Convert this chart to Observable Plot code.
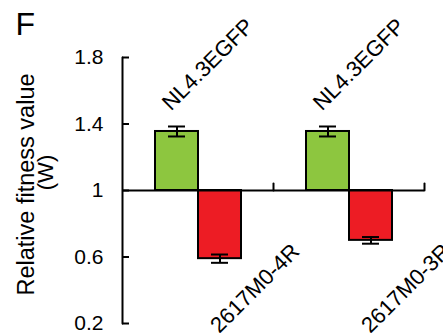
<!DOCTYPE html>
<html><head><meta charset="utf-8">
<script src="https://cdn.jsdelivr.net/npm/d3@7"></script>
<script src="https://cdn.jsdelivr.net/npm/@observablehq/plot@0.6"></script>
<style>html,body{margin:0;padding:0;background:#fff;overflow:hidden;} #chart{width:443px;height:333px;overflow:hidden}</style>
</head><body><div id="chart"></div>
<script>
const pairs = ["Pair 1", "Pair 2"];
const competitorLabels = ["NL4.3EGFP", "NL4.3EGFP"];
const mutantLabels = ["2617M0-4R", "2617M0-3R"];
const competitorW = [1.355, 1.355];
const competitorErr = [0.03, 0.03];
const mutantW = [0.59, 0.70];
const mutantErr = [0.025, 0.02];
const yTicks = [0.2, 0.6, 1, 1.4, 1.8];
const yLabelLines = ["Relative fitness value", "(W)"];
const panelLetter = "F";
const roles = ["competitor", "mutant"];
const roleColors = ["#8dc63f", "#ed1c24"];

const data = pairs.flatMap((p, i) => [
  {pair: p, role: "competitor", label: competitorLabels[i], w: competitorW[i], err: competitorErr[i]},
  {pair: p, role: "mutant", label: mutantLabels[i], w: mutantW[i], err: mutantErr[i]}
]);
const font = "'Liberation Sans', Arial, sans-serif";
const upLine = {draw(ctx, l) { ctx.moveTo(0, 0); ctx.lineTo(0, -l); }};
const W = 443, H = 333, mL = 121, mR = 19, mT = 57, mB = 10;
const frameHeight = H - mT - mB;

const chart = Plot.plot({
  width: W, height: H,
  marginLeft: mL, marginRight: mR, marginTop: mT, marginBottom: mB,
  style: {fontFamily: font, background: "white", color: "black"},
  fx: {domain: pairs, axis: null, paddingInner: 0, paddingOuter: 0},
  x: {domain: roles, axis: null, paddingInner: 0, paddingOuter: 0.72},
  y: {domain: [yTicks[0], yTicks[yTicks.length - 1]]},
  color: {domain: roles, range: roleColors},
  marks: [
    Plot.barY(data, {fx: "pair", x: "role", y1: 1, y2: "w", fill: "role", stroke: "black", strokeWidth: 2}),
    Plot.ruleX(data, {fx: "pair", x: "role", y1: d => d.w - d.err, y2: d => d.w + d.err, stroke: "black", strokeWidth: 2}),
    Plot.tickY(data, {fx: "pair", x: "role", y: d => d.w + d.err, inset: 13, stroke: "black", strokeWidth: 2}),
    Plot.tickY(data, {fx: "pair", x: "role", y: d => d.w - d.err, inset: 13, stroke: "black", strokeWidth: 2}),
    Plot.ruleY([1], {stroke: "black", strokeWidth: 2}),
    Plot.vector([1], {y: d => d, frameAnchor: "right", length: 7, rotate: 0, anchor: "start", shape: upLine, stroke: "black", strokeWidth: 2}),
    Plot.vector([yTicks[0]], {y: d => d, frameAnchor: "left", length: frameHeight, rotate: 0, anchor: "start", shape: upLine, stroke: "black", strokeWidth: 2, facetAnchor: "left"}),
    Plot.axisY(yTicks, {tickSize: -7, tickPadding: 26, strokeWidth: 2, fontSize: 21, label: null, tickFormat: d => String(d)}),
    Plot.text(data.filter(d => d.role === "competitor"), {fx: "pair", x: "role", text: "label", frameAnchor: "top", textAnchor: "middle", lineAnchor: "middle", rotate: -45, dx: 31, dy: 7, fontSize: 22}),
    Plot.text(data.filter(d => d.role === "mutant"), {fx: "pair", x: "role", text: "label", frameAnchor: "bottom", textAnchor: "middle", lineAnchor: "middle", rotate: -45, dx: 35, dy: -35, fontSize: 22}),
    Plot.text([yLabelLines[0]], {frameAnchor: "left", textAnchor: "middle", lineAnchor: "middle", rotate: -90, dx: -96, dy: -6, fontSize: 23.5, facetAnchor: "left"}),
    Plot.text([yLabelLines[1]], {frameAnchor: "left", textAnchor: "middle", lineAnchor: "middle", rotate: -90, dx: -77, dy: -18, fontSize: 22, facetAnchor: "left"}),
    Plot.text([panelLetter], {frameAnchor: "top-left", textAnchor: "start", lineAnchor: "bottom", dx: -107, dy: -23, fontSize: 32, facetAnchor: "left"})
  ]
});
document.getElementById("chart").appendChild(chart);
</script>
</body></html>
